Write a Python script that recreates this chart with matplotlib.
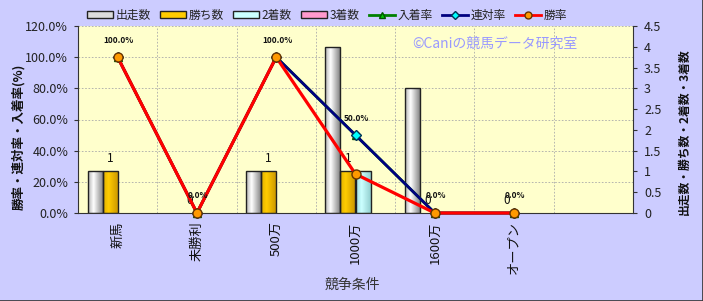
import numpy as np
import matplotlib
matplotlib.use("Agg")
import matplotlib.pyplot as plt
from matplotlib.colors import LinearSegmentedColormap
from matplotlib.patches import Patch
from matplotlib.lines import Line2D

plt.rcParams['font.family'] = ['Noto Sans CJK JP', 'DejaVu Sans']

# ---- data ----
categories = ['新馬', '未勝利', '500万', '1000万', '1600万', 'オープン']
starts = [1, 0, 1, 4, 3, 0]          # 出走数
wins = [1, 0, 1, 1, 0, 0]            # 勝ち数
seconds = [0, 0, 0, 1, 0, 0]         # 2着数
thirds = [0, 0, 0, 0, 0, 0]          # 3着数
place_rate = [100, 0, 100, 50, 0, 0]   # 入着率
quinella_rate = [100, 0, 100, 50, 0, 0]  # 連対率
win_rate = [100, 0, 100, 25, 0, 0]     # 勝率
pct_ticks = [0, 20, 40, 60, 80, 100, 120]
cnt_ticks = [0, 0.5, 1, 1.5, 2, 2.5, 3, 3.5, 4, 4.5]

W, H = 703, 301
fig = plt.figure(figsize=(W / 100, H / 100), dpi=100)
fig.patch.set_facecolor('#CCCCFF')

ax = fig.add_axes([78 / W, 1 - 213 / H, (633 - 78) / W, (213 - 26) / H])
ax.set_facecolor('#FFFFCC')
ax2 = ax.twinx()

x = np.arange(len(categories))
bw = 0.19
series = [
    ('出走数', starts, ['#b4b4b4', '#ffffff', '#7a7a7a'], '#dcdcdc'),
    ('勝ち数', wins, ['#e0b000', '#ffcc00', '#c89400'], '#ffcc00'),
    ('2着数', seconds, ['#9fdede', '#ccffff', '#8ccaca'], '#ccffff'),
    ('3着数', thirds, ['#e080b0', '#ffbbdd', '#c06090'], '#ff99cc'),
]
grad = np.linspace(0, 1, 64)[np.newaxis, :]
for i, (name, vals, cols, solid) in enumerate(series):
    cmap = LinearSegmentedColormap.from_list(name, [(0, cols[0]), (0.35, cols[1]), (1, cols[2])])
    xs = x + (i - 1.5) * bw
    bars = ax.bar(xs, vals, bw, color=solid, linewidth=0, zorder=2)
    for b in bars:
        if b.get_height() <= 0:
            b.set_visible(False)
            continue
        x0, y0 = b.get_x(), b.get_y()
        im = ax.imshow(grad, extent=[x0, x0 + b.get_width(), y0, y0 + b.get_height()],
                       aspect='auto', cmap=cmap, zorder=2.1, interpolation='bilinear')
        im.set_clip_path(b)
    edges = ax.bar(xs, vals, bw, fill=False, edgecolor='#222222', linewidth=1.0, zorder=2.2)
    for b in edges:
        if b.get_height() <= 0:
            b.set_visible(False)
    if name == '勝ち数':
        for xi, v in zip(xs, vals):
            ax.annotate(f'{v}', (xi, v), xytext=(0, 13), textcoords='offset pixels',
                        ha='center', va='center', fontsize=8.5, color='#111111', zorder=6)

ax.set_xlim(-0.5, 6.5)
ax.set_ylim(0, 4.5)

# gridlines
for p in pct_ticks[1:]:
    ax.axhline(p / 120 * 4.5, color='#aaaaaa', lw=0.6, ls=(0, (2, 2)), zorder=0.5)
for b in np.arange(0.5, 6, 1.0):
    ax.axvline(b, color='#aaaaaa', lw=0.6, ls=(0, (2, 2)), zorder=0.5)

ax.yaxis.tick_right()
ax.set_yticks(cnt_ticks)
ax.set_yticklabels([f'{t:g}' for t in cnt_ticks])
ax.tick_params(axis='y', labelsize=9, colors='#333333', length=3, pad=5, labelcolor='#222222')
ax.set_xticks(x)
ax.set_xticklabels(categories, rotation=90, ha='center', va='top', fontsize=9.5, color='#111111')
ax.tick_params(axis='x', length=0, pad=6)

for s in ['left', 'bottom', 'right']:
    ax.spines[s].set_color('#333333')
ax.spines['top'].set_visible(False)

# ---- rate lines ----
ax2.set_ylim(0, 120)
ax2.set_xlim(-0.5, 6.5)
ax2.plot(x, place_rate, color='#008000', lw=2.0, marker='^', ms=6,
         mfc='#00cc00', mec='#005500', zorder=3, clip_on=False)
ax2.plot(x, quinella_rate, color='#000080', lw=2.0, marker='D', ms=5,
         mfc='#00ffff', mec='#003355', zorder=4, clip_on=False)
ax2.plot(x, win_rate, color='#ff0000', lw=2.3, marker='o', ms=6.5,
         mfc='#ff9900', mec='#663300', zorder=5, clip_on=False)
for xi, v in zip(x, quinella_rate):
    ax2.annotate(f'{v:.1f}%', (xi, v), xytext=(1, 17), textcoords='offset pixels',
                 ha='center', va='center', fontsize=6, fontweight='bold',
                 color='#111111', zorder=6)

ax2.yaxis.tick_left()
ax2.set_yticks(pct_ticks)
ax2.set_yticklabels([f'{t:.1f}%' for t in pct_ticks])
ax2.tick_params(axis='y', labelsize=9, colors='#333333', length=3, pad=4, labelcolor='#222222')
for s in ax2.spines.values():
    s.set_visible(False)

ax2.text((495 - 78) / 555, (213 - 44) / 187, '©Caniの競馬データ研究室', transform=ax2.transAxes,
         ha='center', va='center', fontsize=10, color='#9999ff', zorder=1)

# axis titles
fig.text(19 / W, 1 - 137 / H, '勝率・連対率・入着率(%)', rotation=90, ha='center', va='center',
         fontsize=9, fontweight='bold', color='#111111')
fig.text(684 / W, 1 - 132 / H, '出走数・勝ち数・2着数・3着数', rotation=90, ha='center', va='center',
         fontsize=8.5, fontweight='bold', color='#111111')
fig.text(352 / W, 1 - 285 / H, '競争条件', ha='center', va='center',
         fontsize=10, color='#333333')

# ---- legend ----
handles = [
    Patch(facecolor='#dcdcdc', edgecolor='#222222', label='出走数'),
    Patch(facecolor='#ffcc00', edgecolor='#222222', label='勝ち数'),
    Patch(facecolor='#ccffff', edgecolor='#222222', label='2着数'),
    Patch(facecolor='#ff99cc', edgecolor='#222222', label='3着数'),
    Line2D([], [], color='#008000', lw=2, marker='^', ms=5, mfc='#00cc00', mec='#005500', label='入着率'),
    Line2D([], [], color='#000080', lw=2, marker='D', ms=4, mfc='#00ffff', mec='#003355', label='連対率'),
    Line2D([], [], color='#ff0000', lw=2, marker='o', ms=5, mfc='#ff9900', mec='#663300', label='勝率'),
]
fig.legend(handles=handles, loc='center', bbox_to_anchor=(327 / W, 1 - 15 / H), ncol=7,
           frameon=False, fontsize=8.5, handlelength=2.2, handleheight=0.6,
           columnspacing=0.8, handletextpad=0.2, labelcolor='#222222')

# border (shadow) on right and bottom
fig.add_artist(Line2D([1 - 0.5 / W, 1 - 0.5 / W], [0, 1], color='#333333', lw=1.2,
                      transform=fig.transFigure))
fig.add_artist(Line2D([0, 1], [0.5 / H, 0.5 / H], color='#333333', lw=1.2,
                      transform=fig.transFigure))

fig.savefig('out.png', dpi=100, facecolor=fig.get_facecolor())
